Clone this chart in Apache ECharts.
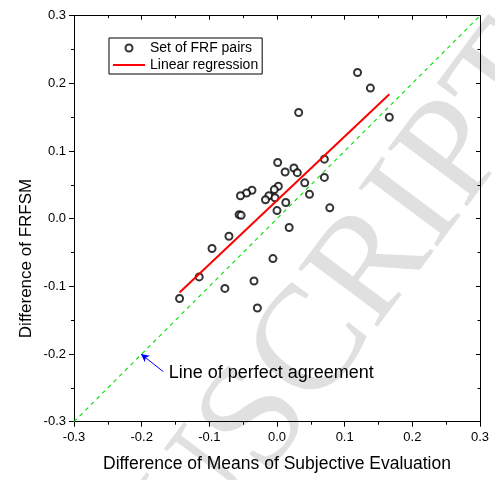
<!DOCTYPE html>
<html><head><meta charset="utf-8">
<script src="https://cdn.jsdelivr.net/npm/echarts/dist/echarts.min.js"></script>
<style>html,body{margin:0;padding:0;background:#fff}#c{width:495px;height:480px}</style>
</head><body><div id="c"></div><script>
// Data
const pairX = [0.001,0.012,0.025,0.030,0.041,0.048,0.070,0.070,0.078,0.002,-0.004,-0.012,-0.017,-0.003,0.013,0.000,0.018,-0.037,-0.045,-0.054,-0.056,-0.053,-0.071,-0.096,-0.115,-0.144,-0.077,-0.034,-0.006,-0.029,0.119,0.138,0.032,0.166];
const pairY = [0.083,0.069,0.075,0.068,0.053,0.036,0.088,0.061,0.016,0.048,0.043,0.034,0.028,0.031,0.024,0.012,-0.013,0.042,0.038,0.034,0.006,0.005,-0.026,-0.044,-0.086,-0.118,-0.103,-0.092,-0.059,-0.132,0.216,0.193,0.157,0.150];
const regX = [-0.144, 0.166];
const regY = [-0.109, 0.184];
const diagX = [-0.3, 0.3];
const diagY = [-0.3, 0.3];
const arrowFrom = [-0.168, -0.226];
const arrowTo = [-0.201, -0.200];
const noteAt = [-0.160, -0.2276];
const noteText = 'Line of perfect agreement';
const xName = 'Difference of Means of Subjective Evaluation';
const yName = 'Difference of FRFSM';
const seriesNames = ['Set of FRF pairs', 'Linear regression'];
const watermark = 'ACCEPTED MANUSCRIPT';
const axisMin = -0.3, axisMax = 0.3, axisStep = 0.1;

const FONT = 'Liberation Sans, Arial, sans-serif';
const zip = (a, b) => a.map((v, i) => [v, b[i]]);
const fmt = v => v.toFixed(1);

const chart = echarts.init(document.getElementById('c'), null, {renderer: 'canvas'});
const baseAxis = {
  type: 'value', min: axisMin, max: axisMax, interval: axisStep,
  splitLine: {show: false},
  axisLine: {show: true, onZero: false, lineStyle: {color: '#000', width: 1}},
  axisTick: {show: true, inside: false, length: 5, lineStyle: {color: '#000'}},
  minorTick: {show: true, splitNumber: 2, length: 3, lineStyle: {color: '#000'}},
  axisLabel: {show: true, color: '#000', fontFamily: FONT, fontSize: 13, formatter: fmt}
};
const mirror = (pos) => Object.assign({}, baseAxis, {
  position: pos,
  axisTick: {show: true, inside: true, length: 4, lineStyle: {color: '#000'}},
  minorTick: {show: true, splitNumber: 2, length: 2.5, lineStyle: {color: '#000'}},
  axisLabel: {show: false}
});

chart.setOption({
  animation: false,
  backgroundColor: '#fff',
  grid: {left: 74, right: 15, top: 15.7, bottom: 58.3},
  xAxis: [
    Object.assign({}, baseAxis, {position: 'bottom', axisLabel: Object.assign({}, baseAxis.axisLabel, {margin: 9}),
      name: xName, nameLocation: 'middle', nameGap: 33,
      nameTextStyle: {color: '#000', fontFamily: FONT, fontSize: 17.5}}),
    mirror('top')
  ],
  yAxis: [
    Object.assign({}, baseAxis, {position: 'left', axisLabel: Object.assign({}, baseAxis.axisLabel, {margin: 8})}),
    mirror('right')
  ],
  legend: {
    left: 109, top: 38, orient: 'vertical',
    data: [
      {name: seriesNames[0], icon: 'emptyCircle'},
      {name: seriesNames[1], icon: 'path://M0,0 L32,0 L32,2 L0,2 Z', itemStyle: {color: '#ff0000'}}
    ],
    borderColor: '#000', borderWidth: 1, borderRadius: 0,
    padding: [3, 4, 2, 4], itemGap: 3, itemWidth: 32, itemHeight: 7,
    textStyle: {color: '#000', fontFamily: FONT, fontSize: 14}
  },
  series: [
    {
      name: 'diag', type: 'line', data: zip(diagX, diagY), symbol: 'none', silent: true,
      lineStyle: {color: '#00e000', width: 1.1, type: [4, 4]}, z: 3,
      markLine: {
        silent: true, symbol: ['none', 'arrow'], symbolSize: [6, 8],
        label: {show: false},
        lineStyle: {color: '#0000ff', width: 1, type: 'solid'},
        data: [[{coord: arrowFrom}, {coord: arrowTo}]]
      }
    },
    {
      name: seriesNames[1], type: 'line', data: zip(regX, regY), symbol: 'none',
      lineStyle: {color: '#ff0000', width: 2}, itemStyle: {color: '#ff0000'}, z: 4
    },
    {
      name: seriesNames[0], type: 'scatter', data: zip(pairX, pairY),
      symbol: 'emptyCircle', symbolSize: 7,
      itemStyle: {color: '#000', borderColor: '#000', borderWidth: 0.9}, z: 2
    }
  ]
});

const p = chart.convertToPixel({gridIndex: 0}, noteAt);
chart.setOption({
  graphic: [
    {type: 'text', x: 537, y: 47, rotation: 0.93, silent: true, z: -10,
      style: {text: watermark, font: '150px "Liberation Serif", serif', fill: 'rgba(0,0,0,0.12)', align: 'right', verticalAlign: 'middle'}},
    {type: 'text', x: p[0], y: p[1], silent: true,
      style: {text: noteText, fontFamily: FONT, fontSize: 18, fill: '#000', align: 'left', verticalAlign: 'middle'}},
    {type: 'text', x: 26, y: 258.5, rotation: Math.PI / 2, silent: true,
      style: {text: yName, fontFamily: FONT, fontSize: 17, fill: '#000', align: 'center', verticalAlign: 'middle'}}
  ]
});
</script></body></html>
